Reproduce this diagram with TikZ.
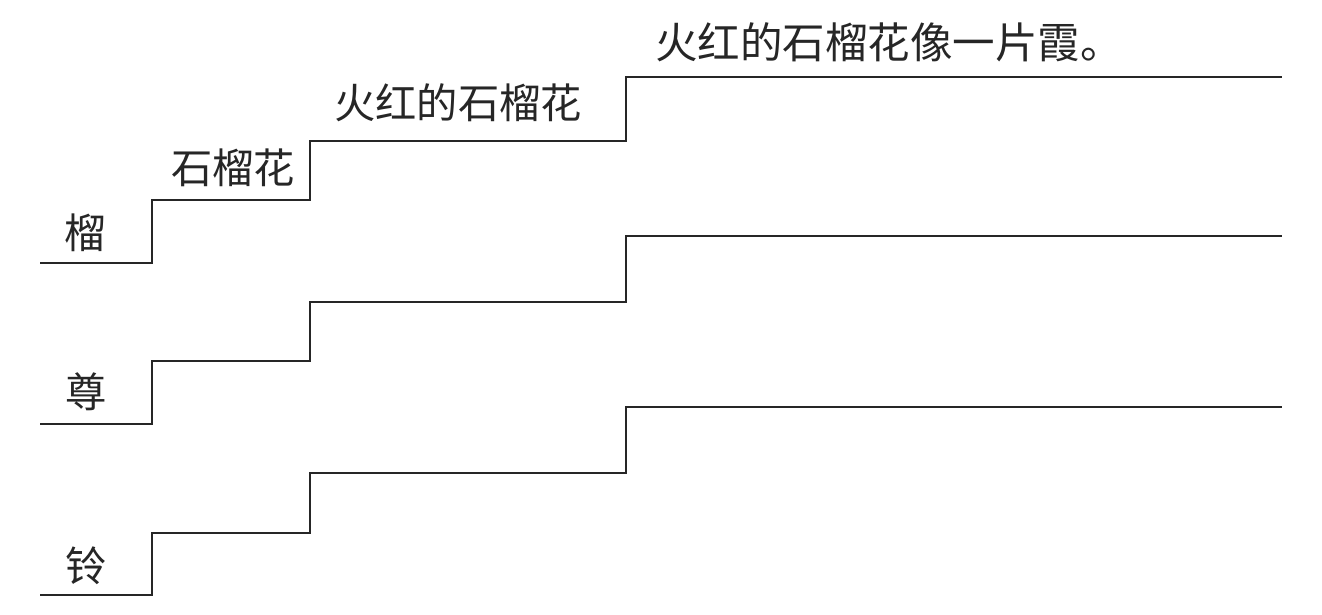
\documentclass[tikz,border=0pt]{standalone}
\usepackage{fontspec}
\newfontfamily\cjk{Noto Sans CJK SC}
\usepackage{tikz}
\usetikzlibrary{positioning}

\begin{document}
\begin{tikzpicture}[x=0.02cm, y=-0.02cm, stair/.style={line width=1.3pt, black!85}, every node/.style={font=\cjk\fontsize{23.5pt}{26pt}\selectfont, inner sep=0, black!85}]
    \useasboundingbox (0,0) rectangle (1322,615);

    % first stair with its words
    \draw[stair] (40,263) -- (152,263) -- (152,200) -- (310,200) -- (310,141) -- (626,141) -- (626,77) -- (1282,77);
    \node (liu) at (85,233) {榴};
    \node (shiliuhua) at (233,168) {石榴花};
    \node (huohong) at (458,103) {火红的石榴花};
    \node[font=\cjk\fontsize{24.2pt}{27pt}\selectfont] (xia) at (889,42) {火红的石榴花像一片霞。};

    % second stair
    \draw[stair] (40,424) -- (152,424) -- (152,361) -- (310,361) -- (310,302) -- (626,302) -- (626,236) -- (1282,236);
    \node (zun) at (86,392) {尊};

    % third stair
    \draw[stair] (40,595) -- (152,595) -- (152,533) -- (310,533) -- (310,473) -- (626,473) -- (626,407) -- (1282,407);
    \node (ling) at (86,566) {铃};
\end{tikzpicture}
\end{document}
